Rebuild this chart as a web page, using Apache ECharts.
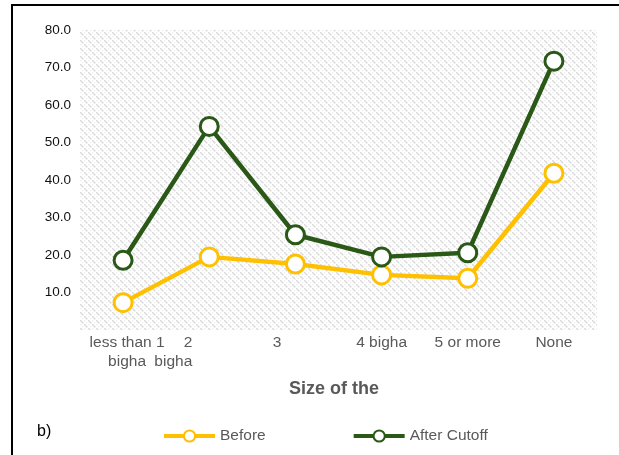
<!DOCTYPE html>
<html><head><meta charset="utf-8">
<script src="https://cdn.jsdelivr.net/npm/echarts@6/dist/echarts.min.js"></script>
<style>html,body{margin:0;padding:0;background:#fff}#c{width:619px;height:455px}</style>
</head><body><div id="c"></div>
<script>
const categories = ['less than 1\nbigha', '2\nbigha', '3', '4 bigha', '5 or more', 'None'];
const beforeValues = [7.3, 19.5, 17.6, 14.7, 13.8, 41.8];
const afterValues = [18.6, 54.3, 25.4, 19.5, 20.6, 71.7];
const yTicks = [0, 10, 20, 30, 40, 50, 60, 70, 80];

// pattern for plot background
const pc = document.createElement('canvas');
pc.width = 8; pc.height = 8;
const ctx = pc.getContext('2d');
ctx.fillStyle = '#ffffff'; ctx.fillRect(0,0,8,8);
ctx.fillStyle = '#d9d9d9';
for (let i = 0; i < 8; i++) {
  if (i % 4 !== 3) ctx.fillRect(i, i, 1.5, 1.5);
}
ctx.fillStyle = '#ebebeb';
for (let i = 0; i < 8; i++) {
  if (i % 2 === 0) ctx.fillRect((i + 4) % 8, i, 1.2, 1.2);
}

const fontFam = '"Liberation Sans", Arial, sans-serif';
const xData = categories.map((c, i) => {
  if (i === 0) return {value: c, textStyle: {padding: [0, 0, 0, 8]}};
  if (i === 1) return {value: c, textStyle: {align: 'right', padding: [0, 17, 0, 0]}};
  if (i === 2) return {value: c, textStyle: {align: 'right', padding: [0, 14, 0, 0]}};
  return c;
});

const chart = echarts.init(document.getElementById('c'), null, {renderer: 'canvas'});
chart.setOption({
  animation: false,
  backgroundColor: '#fff',
  grid: {left: 80, right: 22, top: 30, bottom: 125, show: true, borderWidth: 0,
         backgroundColor: {image: pc, repeat: 'repeat'}},
  title: {text: 'Size of the', left: 284, top: 375,
          textStyle: {fontFamily: fontFam, fontSize: 18, fontWeight: 'bold', color: '#595959'}},
  legend: {
    data: ['Before', 'After Cutoff'], left: 157, top: 423, itemGap: 86,
    itemWidth: 51, itemHeight: 14,
    lineStyle: {width: 4},
    textStyle: {fontFamily: fontFam, fontSize: 15.5, color: '#595959'}
  },
  xAxis: {
    type: 'category', data: xData, boundaryGap: true,
    axisLine: {show: false}, axisTick: {show: false}, splitLine: {show: false},
    axisLabel: {interval: 0, margin: 3, fontFamily: fontFam, fontSize: 15.5, color: '#595959', lineHeight: 19}
  },
  yAxis: {
    type: 'value', min: yTicks[0], max: yTicks[yTicks.length - 1], interval: 10,
    axisLine: {show: false}, axisTick: {show: false}, splitLine: {show: false},
    axisLabel: {margin: 9, fontFamily: fontFam, fontSize: 13.5, color: '#111', showMinLabel: false,
                formatter: v => v.toFixed(1)}
  },
  series: [
    {name: 'Before', type: 'line', data: beforeValues, symbol: 'circle', symbolSize: 18,
     lineStyle: {color: '#FFC000', width: 4.5}, itemStyle: {color: '#fff', borderColor: '#FFC000', borderWidth: 3}},
    {name: 'After Cutoff', type: 'line', data: afterValues, symbol: 'circle', symbolSize: 18,
     lineStyle: {color: '#2A5817', width: 4.5}, itemStyle: {color: '#fff', borderColor: '#2A5817', borderWidth: 3}}
  ],
  graphic: [
    {type: 'line', shape: {x1: 11, y1: 5, x2: 619, y2: 5}, style: {stroke: '#000', lineWidth: 2}},
    {type: 'line', shape: {x1: 12, y1: 4, x2: 12, y2: 455}, style: {stroke: '#000', lineWidth: 2}},
    {type: 'text', left: 37, top: 424, style: {text: 'b)', font: '16px "Liberation Sans", Arial, sans-serif', fill: '#000'}}
  ]
});
</script></body></html>
